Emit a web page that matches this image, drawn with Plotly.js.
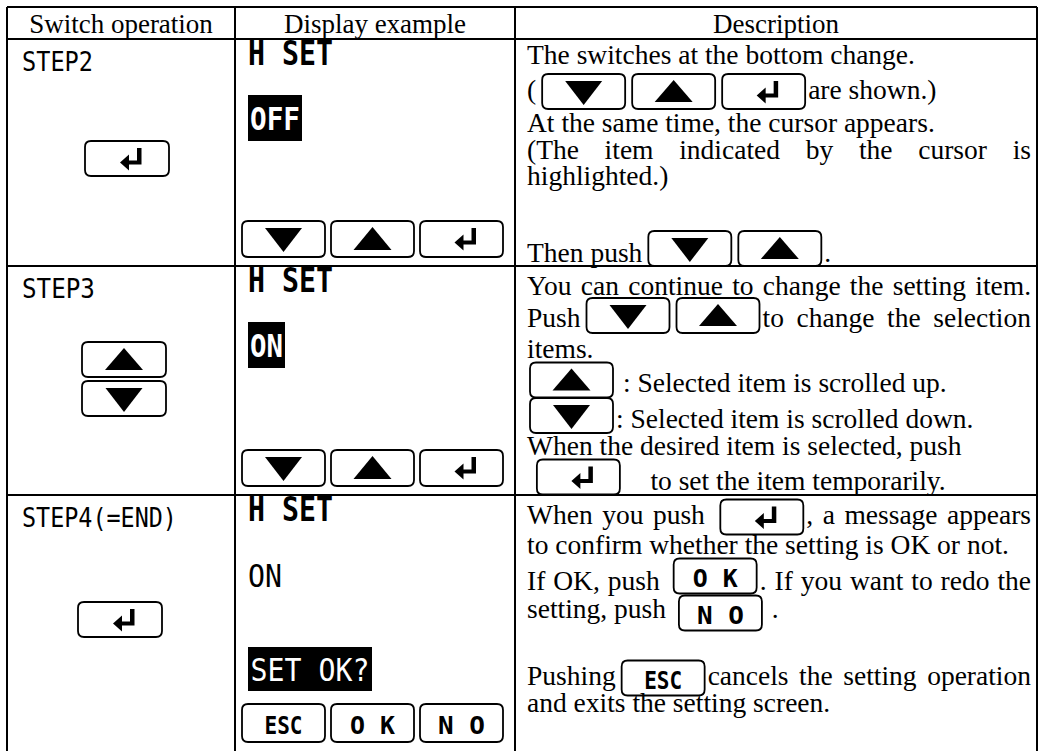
<!DOCTYPE html>
<html><head><meta charset="utf-8">
<script src="https://cdn.plot.ly/plotly-3.0.1.min.js"></script>
<style>html,body{margin:0;padding:0;background:#fff;overflow:hidden}</style>
</head><body>
<div id="chart" style="width:1043px;height:751px"></div>
<script>
// ---------------- data ----------------
const headers = ["Switch operation", "Display example", "Description"];
const stepLabels = ["STEP2", "STEP3", "STEP4(=END)"];
const stepKeys = [["ENT"], ["UP", "DN"], ["ENT"]];
const displayTitle = ["H SET", "H SET", "H SET"];
const displayValue = ["OFF", "ON", "ON"];
const valueHighlighted = [true, true, false];
const displayPrompt = ["", "", "SET OK?"];
const displayKeys = [["DN", "UP", "ENT"], ["DN", "UP", "ENT"], ["ESC", "OK", "NO"]];
const keyLabels = {ESC: "ESC", OK: "O K", NO: "N O"};
const descStep2 = [
  "The switches at the bottom change.",
  "({DN}{UP}{ENT}are shown.)",
  "At the same time, the cursor appears.",
  "(The item indicated by the cursor is",
  "highlighted.)",
  "",
  "Then push{DN}{UP}."
];
const descStep3 = [
  "You can continue to change the setting item.",
  "Push{DN}{UP}to change the selection",
  "items.",
  "{UP} : Selected item is scrolled up.",
  "{DN}: Selected item is scrolled down.",
  "When the desired item is selected, push",
  " {ENT}    to set the item temporarily."
];
const descStep4 = [
  "When you push {ENT}, a message appears",
  "to confirm whether the setting is OK or not.",
  "If OK, push {OK}. If you want to redo the",
  "setting, push {NO} .",
  "",
  "Pushing{ESC}cancels the setting operation",
  "and exits the setting screen."
];
const descriptions = [descStep2, descStep3, descStep4];

// ---------------- layout (positions / styles) ----------------
const W = 1043, H = 751;
const SERIF = "'Liberation Serif', 'Times New Roman', serif";
const MONO = "'DejaVu Sans Mono', 'Liberation Mono', monospace";
const TL = 7, TR = 1037, TT = 7;
const colX = [TL, 235, 515, TR];
const rowY = [TT, 39, 266, 495];
const LW = 2;
const BODY = 27.5, HEAD = 27;
const DESC_X = 527, DESC_R = 1031;
const descBase = [[64, 99, 132, 159, 185, null, 262], [295, 327, 358, 392, 428, 455, 490], [524, 554, 590, 618, null, 685, 712]];
const descBtnCy = [[null, 91.5, null, null, null, null, 248.5], [null, 315.5, null, 380, 415.5, null, 477], [517, null, 576, 613, null, 678, null]];
const descJustify = [[0, 0, 0, 1, 0, 0, 0], [1, 1, 0, 0, 0, 0, 0], [1, 0, 1, 0, 0, 1, 0]];
const col1Btn = [[[85, 141]], [[82, 342], [82, 381]], [[78, 602]]];
const stepW = [71, 73, 155];
const dispBtnX = [242, 331, 420];
const dispBtnTop = [221, 450, 704];
const hiBox = [[248, 95, 302, 141], [248, 322, 285, 368], null];
const valueW = [50, 33, 34];
const promptBox = [null, null, [248, 647, 372, 691]];
const valueBase = [null, null, 587];
const keyW = {ESC: 38, OK: 45, NO: 47};

// ---------------- helpers ----------------
const canvas = document.createElement('canvas');
const ctx = canvas.getContext('2d');
function measure(str, size, fam, weight) {
  ctx.font = (weight === 'bold' ? 'bold ' : '') + size + 'px ' + fam;
  return ctx.measureText(str).width;
}
const shapes = [];
const buckets = {};
function addText(x, base, str, fam, size, weight, color, anchor, targetW) {
  const key = [fam, size, weight, color].join('|');
  if (!buckets[key]) buckets[key] = {fam, size, weight, color, x: [], y: [], t: [], p: [], s: []};
  const b = buckets[key];
  b.x.push(x); b.y.push(base - 0.25 * size); b.t.push(str);
  b.p.push(anchor === 'c' ? 'middle center' : anchor === 'r' ? 'middle left' : 'middle right');
  b.s.push(targetW ? targetW / measure(str, size, fam, weight) : 1);
}
function line(x0, y0, x1, y1) {
  shapes.push({type: 'line', xref: 'x', yref: 'y', x0, y0, x1, y1, layer: 'below', line: {color: '#000', width: LW}});
}
function fillPath(p, color) {
  shapes.push({type: 'path', xref: 'x', yref: 'y', path: p, fillcolor: color || '#000', layer: 'below', line: {width: 0}});
}
function rrect(x0, y0, x1, y1, r) {
  return `M${x0 + r},${y0}L${x1 - r},${y0}Q${x1},${y0} ${x1},${y0 + r}L${x1},${y1 - r}Q${x1},${y1} ${x1 - r},${y1}L${x0 + r},${y1}Q${x0},${y1} ${x0},${y1 - r}L${x0},${y0 + r}Q${x0},${y0} ${x0 + r},${y0}Z`;
}
function button(x, y, w, h, key) {
  shapes.push({type: 'path', xref: 'x', yref: 'y', path: rrect(x, y, x + w, y + h, 6), fillcolor: 'rgba(0,0,0,0)', layer: 'below', line: {color: '#000', width: 1.8}});
  const cx = x + w / 2;
  if (key === 'DN') {
    fillPath(`M${cx - 18.5},${y + 7}L${cx + 18.5},${y + 7}L${cx},${y + 31}Z`);
  } else if (key === 'UP') {
    fillPath(`M${cx - 19},${y + h - 7}L${cx + 19},${y + h - 7}L${cx},${y + 6}Z`);
  } else if (key === 'ENT') {
    const ax = cx + 4 - 11, ay = y + 7;
    fillPath(`M${ax + 17},${ay}L${ax + 21.5},${ay}L${ax + 21.5},${ay + 16.5}L${ax + 9},${ay + 16.5}L${ax + 9},${ay + 22.5}L${ax},${ay + 14.5}L${ax + 9},${ay + 6.5}L${ax + 9},${ay + 12.5}L${ax + 17},${ay + 12.5}Z`);
  } else {
    const fs = 25, cap = 0.729 * fs;
    addText(cx, y + h / 2 + cap / 2 + 1.5, keyLabels[key] || key, MONO, fs, 'bold', '#000', 'c', keyW[key]);
  }
}

// ---------------- table grid ----------------
line(TL, TT, TR, TT);
for (let i = 1; i < rowY.length; i++) line(TL, rowY[i], TR, rowY[i]);
colX.forEach(x => line(x, TT, x, H + 2));

// headers
headers.forEach((h, i) => addText((colX[i] + colX[i + 1]) / 2, 33, h, SERIF, HEAD, 'normal', '#000', 'c'));

function layoutLine(str, base, btnCy, right) {
  const SP = measure(' ', BODY, SERIF);
  const parts = str.split(/(\{[A-Z]+\})/).filter(s => s.length);
  const items = [];
  let pending = 0;
  parts.forEach(p => {
    const m = p.match(/^\{([A-Z]+)\}$/);
    if (m) { items.push({kind: 'btn', key: m[1], w: 83, sp: pending}); pending = 0; }
    else {
      const re = /( +)|([^ ]+)/g; let mm;
      while ((mm = re.exec(p))) {
        if (mm[1]) pending += mm[1].length;
        else { items.push({kind: 'word', text: mm[2], w: measure(mm[2], BODY, SERIF), sp: pending}); pending = 0; }
      }
    }
  });
  const gaps = items.map((it, i) => {
    let g = it.sp * SP;
    if (i === 0) return g + (it.kind === 'btn' ? 3 : 0);
    const prev = items[i - 1];
    if (it.kind === 'btn' && prev.kind === 'btn') g += 7;
    else if (it.kind === 'btn') g += 6;
    else if (prev.kind === 'btn') g += 3;
    return g;
  });
  if (right) {
    let total = DESC_X;
    items.forEach((it, i) => { total += gaps[i] + it.w; });
    const idx = items.map((it, i) => (i > 0 && it.sp > 0) ? i : -1).filter(i => i >= 0);
    if (idx.length) {
      const extra = (right - total) / idx.length;
      idx.forEach(i => { gaps[i] += extra; });
    }
  }
  let x = DESC_X;
  items.forEach((it, i) => {
    x += gaps[i];
    if (it.kind === 'word') addText(x, base, it.text, SERIF, BODY, 'normal', '#000', 'l');
    else button(x, btnCy - 17.5, it.w, 35, it.key);
    x += it.w;
  });
}

// ---------------- rows ----------------
for (let r = 0; r < 3; r++) {
  const top = rowY[r + 1];
  // column 1: switch operation
  addText(22, top + 32, stepLabels[r], MONO, 26, 'normal', '#000', 'l', stepW[r]);
  stepKeys[r].forEach((k, j) => button(col1Btn[r][j][0], col1Btn[r][j][1], 84, 35, k));
  // column 2: display example
  addText(248, top + 26, displayTitle[r], MONO, 33, 'bold', '#000', 'l', 85);
  const cap = 0.729 * 32;
  if (valueHighlighted[r]) {
    const b = hiBox[r];
    fillPath(`M${b[0]},${b[1]}L${b[2]},${b[1]}L${b[2]},${b[3]}L${b[0]},${b[3]}Z`);
    addText((b[0] + b[2]) / 2, (b[1] + b[3]) / 2 + cap / 2, displayValue[r], MONO, 32, 'bold', '#fff', 'c', valueW[r]);
  } else {
    addText(248, valueBase[r], displayValue[r], MONO, 32, 'normal', '#000', 'l', valueW[r]);
  }
  if (displayPrompt[r]) {
    const b = promptBox[r];
    fillPath(`M${b[0]},${b[1]}L${b[2]},${b[1]}L${b[2]},${b[3]}L${b[0]},${b[3]}Z`);
    addText((b[0] + b[2]) / 2, (b[1] + b[3]) / 2 + cap / 2, displayPrompt[r], MONO, 32, 'normal', '#fff', 'c', 119);
  }
  displayKeys[r].forEach((k, j) => button(dispBtnX[j], dispBtnTop[r], 83, r === 2 ? 38 : 36, k));
  // column 3: description
  descriptions[r].forEach((str, li) => {
    if (!str) return;
    layoutLine(str, descBase[r][li], descBtnCy[r][li], descJustify[r][li] ? DESC_R : null);
  });
}

// ---------------- plot ----------------
const bucketList = Object.values(buckets);
const traces = bucketList.map(b => ({
  type: 'scatter', mode: 'text', x: b.x, y: b.y, text: b.t, textposition: b.p,
  textfont: {family: b.fam, size: b.size, color: b.color, weight: b.weight},
  marker: {size: 0}, hoverinfo: 'skip', showlegend: false, cliponaxis: false
}));
const layout = {
  width: W, height: H, margin: {l: 0, r: 0, t: 0, b: 0, pad: 0},
  paper_bgcolor: '#fff', plot_bgcolor: '#fff', showlegend: false,
  xaxis: {range: [0, W], visible: false, fixedrange: true},
  yaxis: {range: [H, 0], visible: false, fixedrange: true},
  shapes: shapes
};
function applyScales(gd) {
  const els = gd.querySelectorAll('.scatterlayer .trace');
  els.forEach((el, ti) => {
    const sc = bucketList[ti] ? bucketList[ti].s : null;
    if (!sc) return;
    el.querySelectorAll('text').forEach((te, pi) => {
      const s = sc[pi];
      if (s && Math.abs(s - 1) > 1e-3) {
        const x = parseFloat(te.getAttribute('x'));
        te.setAttribute('transform', `translate(${x} 0) scale(${s} 1) translate(${-x} 0)`);
      }
    });
  });
}
const gdEl = document.getElementById('chart');
Plotly.newPlot(gdEl, traces, layout, {staticPlot: true, displayModeBar: false}).then(applyScales);
applyScales(gdEl);
</script>
</body></html>
